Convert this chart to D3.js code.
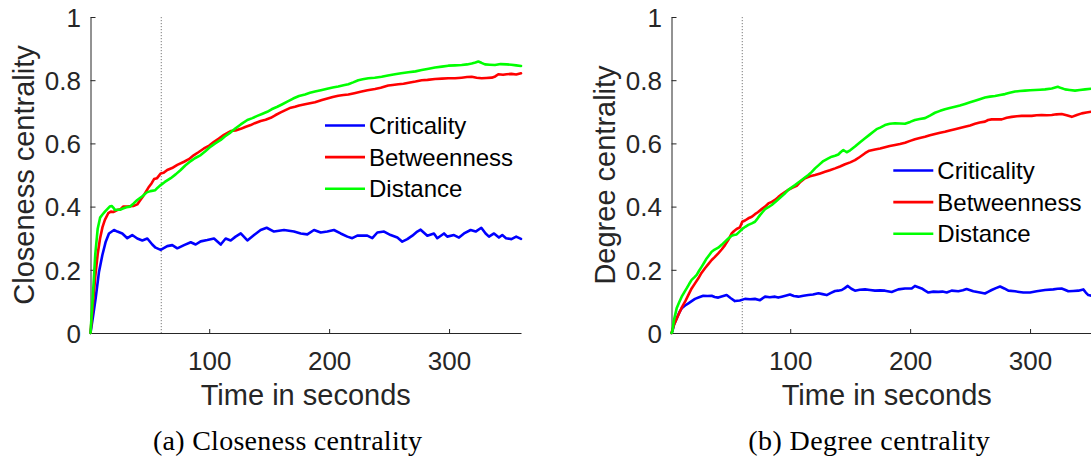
<!DOCTYPE html>
<html>
<head>
<meta charset="utf-8">
<script src="https://cdn.jsdelivr.net/npm/d3@7"></script>
<style>
  html, body { margin: 0; padding: 0; background: #fff; overflow: hidden; }
  text { font-family: "Liberation Sans", Arial, Helvetica, sans-serif; }
</style>
</head>
<body>
<svg id="fig" width="1091" height="457"></svg>
<script>
// ---- axes content ----
const timeTicks = [100, 200, 300];
const centralityTicks = [0, 0.2, 0.4, 0.6, 0.8, 1];
const timeDomain = [1, 360];
const markerTime = 60;
const seriesNames = ["Criticality", "Betweenness", "Distance"];
const seriesColors = ["#0000ff", "#ff0000", "#00ff00"];

// ---- (a) closeness centrality, [time s, value] ----
const closenessCriticality = [[1,0],[3,0.05],[5.3,0.11],[8.1,0.194],[10.9,0.247],[13.7,0.289],[16.4,0.315],[20.6,0.326],[23.4,0.321],[27.5,0.315],[31.7,0.30],[35.8,0.31],[40,0.299],[44.2,0.293],[48.4,0.299],[52.5,0.28],[55.3,0.27],[59.5,0.263],[65,0.275],[69.2,0.278],[73.4,0.268],[79,0.278],[84.6,0.287],[88.7,0.28],[92.9,0.29],[98.4,0.294],[104,0.299],[109.6,0.28],[113.7,0.299],[117.9,0.293],[122,0.305],[126.3,0.315],[131.8,0.293],[137.4,0.31],[142.9,0.326],[147.9,0.333],[154,0.321],[162.4,0.326],[170.7,0.321],[176.3,0.315],[181.8,0.312],[187.4,0.326],[193,0.318],[198.5,0.321],[204,0.326],[209.6,0.315],[215.2,0.305],[219.3,0.30],[223.5,0.308],[231.8,0.308],[236,0.30],[240.2,0.318],[245.8,0.321],[251.3,0.31],[256.9,0.302],[261,0.289],[265.2,0.297],[269.4,0.308],[273.5,0.321],[276.3,0.327],[281.9,0.308],[287.4,0.315],[290.2,0.30],[295.8,0.315],[298.5,0.305],[304.1,0.31],[308.3,0.302],[312.5,0.315],[318,0.326],[322.2,0.321],[326.9,0.333],[330.5,0.315],[333.3,0.305],[337.5,0.315],[341.6,0.302],[344.4,0.31],[347.5,0.30],[352,0.297],[356,0.305],[360,0.298]];
const closenessBetweenness = [[1,0],[3,0.09],[5,0.18],[7,0.25],[9,0.3],[11,0.335],[13,0.358],[15.8,0.379],[18,0.384],[20,0.383],[23.3,0.389],[26,0.392],[28.4,0.4],[31.7,0.4],[34,0.401],[36.7,0.402],[40,0.407],[42,0.418],[45.6,0.437],[49.8,0.463],[52,0.474],[54,0.487],[56.5,0.49],[59.5,0.505],[62,0.507],[65,0.516],[69,0.522],[73.4,0.532],[79,0.542],[83,0.55],[87.3,0.563],[91,0.572],[95.6,0.584],[100,0.593],[104,0.605],[108,0.615],[112.3,0.627],[117.9,0.639],[122,0.641],[126.3,0.646],[130,0.652],[134.6,0.658],[138,0.664],[142.9,0.671],[147,0.675],[151.3,0.681],[155,0.689],[159.6,0.698],[164,0.706],[168,0.713],[171.5,0.716],[175,0.72],[179.9,0.724],[184,0.727],[188.2,0.73],[194,0.737],[199.3,0.743],[203,0.747],[207.6,0.751],[212,0.753],[216,0.755],[221,0.759],[227.1,0.764],[232,0.768],[238.2,0.772],[243,0.776],[249.3,0.783],[253,0.785],[257.7,0.787],[262,0.789],[267.4,0.793],[272,0.796],[277.2,0.80],[282,0.801],[288.3,0.804],[294,0.805],[299.4,0.806],[305,0.806],[310.5,0.808],[315,0.81],[318.9,0.811],[323,0.808],[327.2,0.806],[331,0.807],[335.6,0.808],[338.5,0.812],[341.1,0.819],[345,0.817],[348,0.819],[352,0.82],[356,0.818],[360,0.822]];
const closenessDistance = [[1,0],[3,0.12],[5,0.25],[7,0.33],[9,0.365],[11,0.375],[13,0.384],[15,0.392],[17,0.4],[18.7,0.402],[20,0.397],[21.4,0.389],[23,0.39],[25.6,0.39],[28,0.394],[31,0.398],[34,0.40],[37,0.41],[40,0.421],[44,0.432],[48,0.445],[51,0.449],[55,0.452],[57,0.46],[59.5,0.468],[63,0.478],[67.9,0.49],[72,0.502],[76.2,0.516],[80,0.53],[84.6,0.544],[88,0.553],[92.9,0.563],[97,0.576],[101.2,0.59],[105,0.6],[109.6,0.611],[113,0.622],[117.9,0.635],[122,0.648],[126.3,0.66],[131.8,0.674],[136,0.68],[140.1,0.687],[144,0.693],[148.4,0.70],[152,0.708],[156.8,0.716],[161,0.724],[165.1,0.732],[170,0.742],[174.9,0.75],[179.9,0.755],[184,0.76],[188.2,0.764],[194,0.769],[199.3,0.774],[203,0.777],[207.6,0.78],[212,0.784],[216,0.787],[220,0.793],[224.3,0.80],[228,0.803],[232.7,0.806],[238,0.808],[243.8,0.811],[249,0.815],[254.9,0.819],[260,0.822],[266,0.825],[272,0.828],[277.2,0.832],[283,0.836],[288.3,0.84],[294,0.843],[299.4,0.846],[305,0.847],[310.5,0.848],[315,0.85],[318.9,0.853],[322,0.856],[324.4,0.859],[327,0.855],[330,0.85],[334,0.849],[338.3,0.848],[343,0.851],[348,0.85],[352,0.849],[356,0.847],[360,0.845]];

// ---- (b) degree centrality, [time s, value] ----
const degreeCriticality = [[1,0],[1.7,0.005],[3,0.025],[5.3,0.046],[7.5,0.065],[9.5,0.078],[12.3,0.087],[15.1,0.094],[17.8,0.101],[20.6,0.108],[24,0.113],[27.5,0.118],[31,0.117],[34.5,0.118],[37,0.114],[40,0.112],[43.5,0.116],[47,0.12],[50.5,0.11],[53.9,0.101],[58,0.103],[62.3,0.108],[66.5,0.107],[70.6,0.108],[74.8,0.104],[79,0.115],[83,0.113],[87.3,0.115],[90,0.112],[92.9,0.115],[96,0.118],[99.8,0.122],[103,0.117],[106.8,0.115],[111,0.118],[115.1,0.12],[119,0.122],[123.5,0.126],[127,0.123],[130.4,0.12],[134,0.127],[137.4,0.133],[140,0.134],[143,0.136],[145.5,0.142],[148,0.149],[151,0.14],[154,0.134],[158,0.137],[162.4,0.138],[166.5,0.136],[170.7,0.134],[175,0.135],[179,0.134],[184.6,0.13],[190.1,0.138],[195.7,0.141],[201.3,0.141],[204,0.149],[206.8,0.145],[209.6,0.141],[212.5,0.134],[215.2,0.128],[219.4,0.131],[223.5,0.13],[227,0.131],[230.5,0.128],[234.6,0.134],[240.2,0.132],[244,0.135],[247.1,0.139],[252.7,0.132],[258.3,0.128],[262.4,0.125],[265,0.13],[268,0.136],[271.5,0.142],[275,0.147],[278.5,0.141],[281.9,0.134],[287.4,0.132],[291,0.13],[294.4,0.128],[300,0.128],[305.5,0.132],[312.5,0.136],[319.4,0.138],[323,0.14],[326.3,0.141],[329,0.137],[331.9,0.132],[336,0.133],[340.3,0.134],[344.4,0.138],[346.5,0.128],[348.6,0.12],[352,0.117],[356,0.118],[360,0.116]];
const degreeBetweenness = [[1,0],[3,0.025],[6.7,0.057],[9.5,0.08],[12.3,0.099],[15,0.12],[17.8,0.141],[20.6,0.157],[23.4,0.173],[26,0.19],[28.9,0.205],[31.7,0.218],[34.5,0.231],[37,0.24],[40,0.252],[43,0.265],[45.6,0.278],[48.4,0.295],[51.2,0.315],[53,0.322],[55.3,0.329],[58,0.334],[60,0.352],[62.3,0.356],[65.1,0.363],[68,0.368],[70.6,0.376],[73,0.382],[76.2,0.392],[79,0.40],[81.8,0.41],[84.6,0.415],[87.3,0.421],[90,0.43],[92.9,0.439],[95.6,0.446],[98.4,0.453],[102,0.46],[105.4,0.466],[108.7,0.479],[112.3,0.49],[116.5,0.496],[120.7,0.50],[125,0.505],[129,0.51],[133,0.515],[137.4,0.521],[141.5,0.527],[145.7,0.534],[150,0.54],[154,0.547],[158,0.557],[162.4,0.569],[166,0.577],[170.7,0.581],[175,0.584],[179,0.588],[183,0.592],[187.4,0.595],[191.5,0.598],[195.7,0.602],[200,0.608],[204,0.613],[208,0.617],[212.4,0.621],[216.5,0.626],[220.7,0.63],[225,0.634],[229,0.637],[233,0.641],[237.4,0.645],[241.5,0.649],[245.7,0.653],[250,0.657],[254.1,0.662],[258,0.666],[262.4,0.669],[265,0.674],[268,0.676],[272,0.676],[276.4,0.676],[280.5,0.681],[284.7,0.684],[289,0.686],[293,0.687],[297,0.687],[301.4,0.687],[305.5,0.689],[309.7,0.69],[314,0.689],[318.1,0.69],[322,0.692],[326.4,0.693],[330.5,0.689],[334.8,0.684],[339,0.69],[343.1,0.695],[347,0.698],[350.9,0.70],[355,0.702],[360,0.703]];
const degreeDistance = [[1,0],[1.7,0.004],[3,0.04],[5.3,0.078],[7.5,0.098],[9.5,0.115],[11.5,0.128],[13.6,0.141],[15.7,0.155],[17.8,0.168],[20,0.176],[22,0.184],[24,0.197],[26.2,0.21],[28.3,0.223],[30.3,0.236],[32.5,0.247],[34.5,0.257],[37,0.264],[40,0.27],[42.8,0.279],[45.6,0.289],[48.4,0.299],[51.2,0.308],[53,0.31],[55.3,0.312],[57.5,0.32],[60,0.329],[62.5,0.336],[65.1,0.342],[68,0.347],[70.6,0.352],[72.7,0.362],[74.8,0.373],[77,0.383],[79,0.392],[81.8,0.398],[84.6,0.405],[88,0.416],[91.5,0.428],[95,0.44],[98.4,0.453],[101,0.46],[104,0.468],[106.8,0.476],[109.6,0.484],[112.3,0.492],[115.1,0.50],[118,0.51],[120.7,0.521],[124,0.532],[127.6,0.544],[131,0.551],[134.6,0.558],[137.4,0.561],[140.1,0.565],[142,0.572],[144.3,0.579],[147.1,0.572],[150,0.578],[154,0.59],[158,0.603],[162.4,0.616],[166,0.627],[169.3,0.637],[172,0.645],[175,0.65],[179,0.658],[183,0.662],[187.4,0.664],[191.5,0.663],[195.7,0.662],[200,0.668],[204,0.674],[208,0.677],[212.4,0.68],[216.5,0.688],[220.7,0.697],[225,0.703],[229,0.708],[233,0.712],[237.4,0.716],[241.5,0.72],[245.7,0.725],[250,0.73],[254.1,0.735],[258,0.74],[262.4,0.745],[266.5,0.748],[270.8,0.75],[275,0.753],[279.1,0.756],[283,0.76],[287.5,0.764],[291.5,0.766],[295.8,0.767],[300,0.768],[304.2,0.769],[308.3,0.77],[312.5,0.771],[318.1,0.774],[323.1,0.779],[326,0.775],[329.2,0.771],[333,0.769],[337.5,0.767],[341.5,0.769],[345.9,0.771],[350.9,0.773],[355,0.772],[360,0.774]];

// ---- layout ----
const plotTop = 17, plotBottom = 333, plotWidth = 430.5;
const axisInk = "#262626";

const panels = [
  { left: 90.5, ylabel: "Closeness centrality", caption: "(a) Closeness centrality",
    series: [closenessCriticality, closenessBetweenness, closenessDistance],
    legendX: 325, legendY: 125.5, captionX: 287.5, captionW: 269 },
  { left: 671.5, ylabel: "Degree centrality", caption: "(b) Degree centrality",
    series: [degreeCriticality, degreeBetweenness, degreeDistance],
    legendX: 893.3, legendY: 170.5, captionX: 869, captionW: 241.5 }
];

const svg = d3.select("#fig");
svg.append("rect").attr("width", 1091).attr("height", 457).attr("fill", "#fff");

panels.forEach(p => {
  const x = d3.scaleLinear().domain(timeDomain).range([p.left, p.left + plotWidth]);
  const y = d3.scaleLinear().domain([0, 1]).range([plotBottom, plotTop]);

  // dotted marker at the one-minute mark
  svg.append("line")
    .attr("x1", x(markerTime)).attr("x2", x(markerTime))
    .attr("y1", plotTop).attr("y2", plotBottom)
    .attr("stroke", "#7a7a7a").attr("stroke-width", 1)
    .attr("stroke-dasharray", "1.2,1.8");

  // y axis
  const gy = svg.append("g")
    .attr("transform", `translate(${p.left},0)`)
    .style("color", axisInk)
    .call(d3.axisLeft(y).tickValues(centralityTicks)
      .tickFormat(d => d3.format("~g")(d))
      .tickSizeInner(-5).tickSizeOuter(0).tickPadding(9.5));
  gy.selectAll("text").attr("font-size", 26).attr("dy", "0.36em")
    .attr("font-family", '"Liberation Sans", Arial, sans-serif').attr("fill", axisInk);
  gy.select(".domain").attr("stroke-width", 1);

  // x axis
  const gx = svg.append("g")
    .attr("transform", `translate(0,${plotBottom})`)
    .style("color", axisInk)
    .call(d3.axisBottom(x).tickValues(timeTicks)
      .tickSizeInner(-4).tickSizeOuter(0));
  gx.selectAll("text").attr("font-size", 26).attr("y", 37).attr("dy", null)
    .attr("font-family", '"Liberation Sans", Arial, sans-serif').attr("fill", axisInk);
  gx.select(".domain").attr("stroke-width", 1);

  // series lines
  const line = d3.line().x(d => x(d[0])).y(d => y(d[1]));
  p.series.forEach((s, i) => {
    svg.append("path").datum(s)
      .attr("d", line)
      .attr("fill", "none")
      .attr("stroke", seriesColors[i])
      .attr("stroke-width", 2.6)
      .attr("stroke-linejoin", "round")
      .attr("stroke-linecap", "round");
  });

  // axis titles
  svg.append("text")
    .attr("x", (x.range()[0] + x.range()[1]) / 2).attr("y", 405)
    .attr("text-anchor", "middle").attr("font-size", 29).attr("fill", axisInk)
    .text("Time in seconds");
  svg.append("text")
    .attr("transform", `translate(${p.left - 56.5},${(plotTop + plotBottom) / 2}) rotate(-90)`)
    .attr("text-anchor", "middle").attr("font-size", 29).attr("fill", axisInk)
    .text(p.ylabel);

  // legend
  const lg = svg.append("g");
  seriesNames.forEach((name, i) => {
    const ly = p.legendY + i * 31.6;
    lg.append("line")
      .attr("x1", p.legendX).attr("x2", p.legendX + 40)
      .attr("y1", ly).attr("y2", ly)
      .attr("stroke", seriesColors[i]).attr("stroke-width", 2.6);
    lg.append("text")
      .attr("x", p.legendX + 44).attr("y", ly + 8.6)
      .attr("font-size", 24).attr("fill", "#000")
      .text(name);
  });

  // sub-figure caption
  svg.append("text")
    .attr("x", p.captionX).attr("y", 449.5)
    .attr("text-anchor", "middle")
    .style("font-family", '"Liberation Serif", "Times New Roman", serif')
    .attr("font-size", 28)
    .attr("textLength", p.captionW).attr("lengthAdjust", "spacing")
    .attr("fill", "#000")
    .text(p.caption);
});
</script>
</body>
</html>
